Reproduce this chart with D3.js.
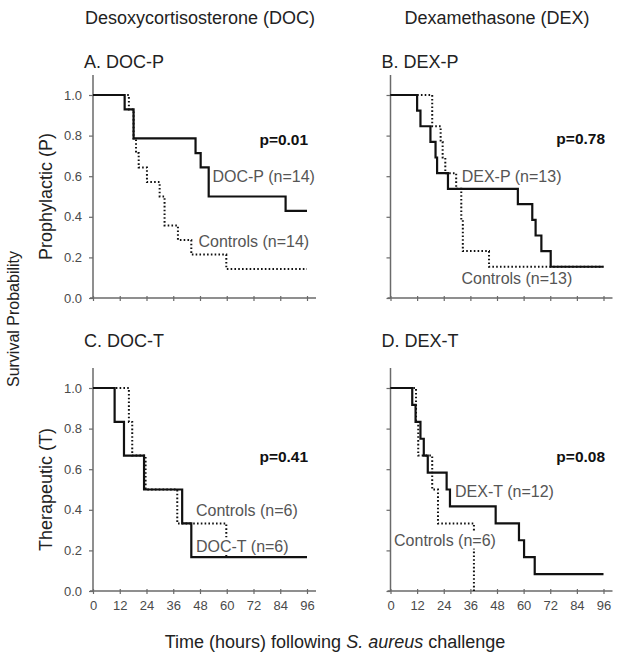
<!DOCTYPE html>
<html>
<head>
<meta charset="utf-8">
<script src="https://cdn.jsdelivr.net/npm/d3@7"></script>
<style>
  html, body { margin: 0; padding: 0; background: #fff; }
  svg { display: block; font-family: "Liberation Sans", Arial, sans-serif; }
</style>
</head>
<body>
<svg id="chart" width="618" height="656"></svg>
<script>
// ---------- data ----------
const xTicks = [0, 12, 24, 36, 48, 60, 72, 84, 96];
const yTicks = [0, 0.2, 0.4, 0.6, 0.8, 1.0];

// Panel A: DOC prophylactic
const docP_time = [0, 14.2, 18.2, 46, 48.3, 51.9, 86.4, 96];
const docP_surv = [1, 0.929, 0.786, 0.714, 0.643, 0.5, 0.429, 0.429];
const docPCtrl_time = [0, 16.1, 18.2, 19.3, 20.5, 24.2, 29.9, 32.1, 38.1, 44.1, 59.8, 96];
const docPCtrl_surv = [1, 0.929, 0.786, 0.714, 0.643, 0.571, 0.5, 0.357, 0.286, 0.214, 0.143, 0.143];

// Panel B: DEX prophylactic
const dexP_time = [0, 12, 13.5, 18, 20.3, 21, 25.9, 57.4, 63.9, 65.4, 68, 72.2, 96];
const dexP_surv = [1, 0.923, 0.846, 0.769, 0.692, 0.615, 0.538, 0.462, 0.385, 0.308, 0.231, 0.154, 0.154];
const dexPCtrl_time = [0, 18.8, 22.6, 23.5, 24.7, 29.6, 31.9, 32.6, 44.4, 96];
const dexPCtrl_surv = [1, 0.846, 0.769, 0.692, 0.615, 0.538, 0.385, 0.231, 0.154, 0.154];

// Panel C: DOC therapeutic
const docT_time = [0, 9.7, 13.9, 22.9, 40, 44.1, 96];
const docT_surv = [1, 0.833, 0.667, 0.5, 0.333, 0.167, 0.167];
const docTCtrl_time = [0, 16.1, 17.6, 23.6, 37.8, 59.8, 96];
const docTCtrl_surv = [1, 0.833, 0.667, 0.5, 0.333, 0.167, 0.167];

// Panel D: DEX therapeutic
const dexT_time = [0, 9.8, 11.3, 13.5, 15, 16.8, 25.3, 26.8, 47.4, 57.9, 60.2, 65, 96];
const dexT_surv = [1, 0.917, 0.833, 0.75, 0.667, 0.583, 0.5, 0.417, 0.333, 0.25, 0.167, 0.083, 0.083];
const dexTCtrl_time = [0, 11.5, 12.5, 18.8, 21.4, 37.6];
const dexTCtrl_surv = [1, 0.833, 0.667, 0.5, 0.333, 0];

const panelTitles = ["A. DOC-P", "B. DEX-P", "C. DOC-T", "D. DEX-T"];
const pValues = ["p=0.01", "p=0.78", "p=0.41", "p=0.08"];
const treatLabels = ["DOC-P (n=14)", "DEX-P (n=13)", "DOC-T (n=6)", "DEX-T (n=12)"];
const ctrlLabels = ["Controls (n=14)", "Controls (n=13)", "Controls (n=6)", "Controls (n=6)"];
const columnTitles = ["Desoxycortisosterone (DOC)", "Dexamethasone (DEX)"];
const rowTitles = ["Prophylactic (P)", "Therapeutic (T)"];

// ---------- layout ----------
const colX = [[93, 307], [390.5, 603.5]];
const rowY = [[298, 95], [591, 388]];

// label anchor points in data units [hours, survival]
const layout = [
  { treat: [53.6, 0.597], ctrl: [47.3, 0.277], p: [96.5, 0.778], treatBg: false, ctrlBg: false },
  { treat: [32.1, 0.598], ctrl: [32, 0.097], p: [96.7, 0.783], treatBg: false, ctrlBg: false },
  { treat: [46.2, 0.222], ctrl: [46.2, 0.396], p: [96.5, 0.662], treatBg: true, ctrlBg: false },
  { treat: [29.1, 0.489], ctrl: [1.6, 0.251], p: [96.7, 0.662], treatBg: false, ctrlBg: true }
];

const series = [
  { t: docP_time, s: docP_surv, c: docPCtrl_time, cs: docPCtrl_surv },
  { t: dexP_time, s: dexP_surv, c: dexPCtrl_time, cs: dexPCtrl_surv },
  { t: docT_time, s: docT_surv, c: docTCtrl_time, cs: docTCtrl_surv },
  { t: dexT_time, s: dexT_surv, c: dexTCtrl_time, cs: dexTCtrl_surv }
];

const svg = d3.select("#chart");
const axisColor = "#6a6a6a";
const tickTextColor = "#4a4a4a";

series.forEach((ser, i) => {
  const col = i % 2, row = Math.floor(i / 2);
  const x = d3.scaleLinear().domain([0, 96]).range(colX[col]);
  const y = d3.scaleLinear().domain([0, 1]).range(rowY[row]);
  const g = svg.append("g");

  // axis lines
  g.append("line").attr("x1", x(0)).attr("x2", x(0))
    .attr("y1", y(1) - 20).attr("y2", y(0))
    .attr("stroke", axisColor).attr("stroke-width", 1.5);
  g.append("line").attr("x1", x(0) - 3).attr("x2", x(96) + 9)
    .attr("y1", y(0)).attr("y2", y(0))
    .attr("stroke", axisColor).attr("stroke-width", 1.5);

  // x axis ticks
  const xa = d3.axisBottom(x).tickValues(xTicks).tickSize(4).tickPadding(7)
    .tickFormat(row === 1 ? d3.format("d") : () => "");
  const gx = g.append("g").attr("transform", `translate(0,${y(0) - 1})`).call(xa);
  gx.select(".domain").remove();
  gx.selectAll(".tick line").attr("stroke", axisColor).attr("stroke-width", 1.2).attr("y1", -1);
  gx.selectAll("text").attr("fill", tickTextColor).style("font-size", "13px")
    .style("font-family", "'Liberation Sans', Arial, sans-serif");

  // y axis ticks
  const ya = d3.axisLeft(y).tickValues(yTicks).tickSize(4).tickPadding(7)
    .tickFormat(col === 0 ? d3.format(".1f") : () => "");
  const gy = g.append("g").attr("transform", `translate(${x(0)},0)`).call(ya);
  gy.select(".domain").remove();
  gy.selectAll(".tick line").attr("stroke", axisColor).attr("stroke-width", 1.2);
  gy.selectAll("text").attr("fill", tickTextColor).style("font-size", "13px")
    .style("font-family", "'Liberation Sans', Arial, sans-serif");

  const line = d3.line().curve(d3.curveStepAfter)
    .x(d => x(d[0])).y(d => y(d[1]));

  // control (dotted)
  g.append("path").datum(ser.c.map((t, k) => [t, ser.cs[k]]))
    .attr("d", line).attr("fill", "none").attr("stroke", "#111")
    .attr("stroke-width", 2).attr("stroke-dasharray", "1.6,2.2");
  // treatment (solid)
  g.append("path").datum(ser.t.map((t, k) => [t, ser.s[k]]))
    .attr("d", line).attr("fill", "none").attr("stroke", "#111")
    .attr("stroke-width", 2.2);

  const L = layout[i];
  function label(txt, pos, bg) {
    const t = g.append("text").attr("x", x(pos[0])).attr("y", y(pos[1]))
      .attr("dy", "0.35em").attr("fill", "#555")
      .style("font-size", "16px").text(txt);
    if (bg) {
      const b = t.node().getBBox();
      g.insert("rect", () => t.node()).attr("x", b.x - 1).attr("y", b.y)
        .attr("width", b.width + 2).attr("height", b.height).attr("fill", "#fff");
    }
  }
  label(treatLabels[i], L.treat, L.treatBg);
  label(ctrlLabels[i], L.ctrl, L.ctrlBg);

  g.append("text").attr("x", x(L.p[0])).attr("y", y(L.p[1])).attr("dy", "0.35em")
    .attr("text-anchor", "end").attr("font-weight", "bold").attr("fill", "#111")
    .style("font-size", "15.5px").text(pValues[i]);

  // panel title
  g.append("text").attr("x", x(0) - 9).attr("y", row === 0 ? 68 : 347)
    .attr("fill", "#222").style("font-size", "18px").text(panelTitles[i]);
});

// column titles
columnTitles.forEach((t, c) => {
  svg.append("text").attr("x", (colX[c][0] + colX[c][1]) / 2).attr("y", 24)
    .attr("text-anchor", "middle").attr("fill", "#222").style("font-size", "18px").text(t);
});

// row titles
rowTitles.forEach((t, r) => {
  const cy = (rowY[r][0] + rowY[r][1]) / 2;
  svg.append("text").attr("transform", `translate(46,${cy}) rotate(-90)`)
    .attr("text-anchor", "middle").attr("dy", "0.35em").attr("fill", "#222")
    .style("font-size", "18px").text(t);
});

svg.append("text").attr("transform", `translate(13,319) rotate(-90)`)
  .attr("text-anchor", "middle").attr("dy", "0.35em").attr("fill", "#222")
  .style("font-size", "16px").text("Survival Probability");

// x axis title
const xt = svg.append("text").attr("x", 335).attr("y", 648).attr("text-anchor", "middle")
  .attr("fill", "#222").style("font-size", "18px");
xt.append("tspan").text("Time (hours) following ");
xt.append("tspan").attr("font-style", "italic").text("S. aureus");
xt.append("tspan").text(" challenge");
</script>
</body>
</html>
